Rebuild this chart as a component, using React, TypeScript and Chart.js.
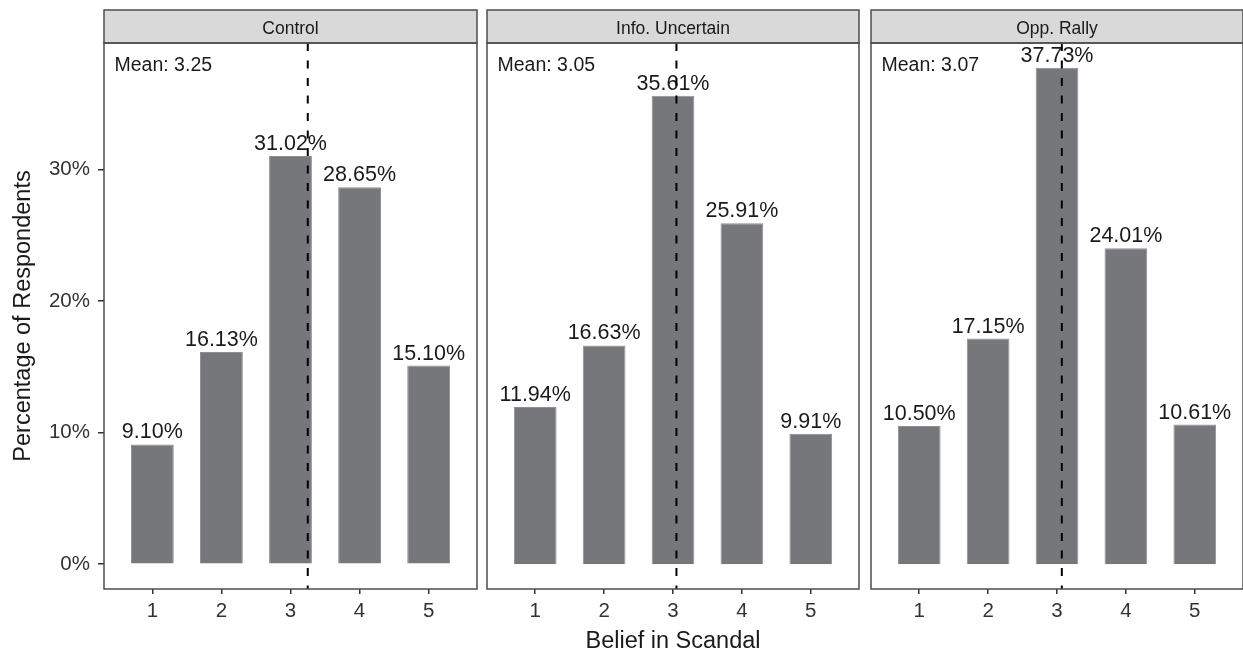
import React, { useEffect, useRef } from 'react';
import { Chart, registerables } from 'chart.js';

Chart.register(...registerables);

// ---------- data ----------
const categories = [1, 2, 3, 4, 5];
const panelTitles = ['Control', 'Info. Uncertain', 'Opp. Rally'];
const controlValues = [9.1, 16.13, 31.02, 28.65, 15.1];
const infoUncertainValues = [11.94, 16.63, 35.61, 25.91, 9.91];
const oppRallyValues = [10.5, 17.15, 37.73, 24.01, 10.61];
const panelMeans = [3.25, 3.05, 3.07];
const yTicks = [0, 10, 20, 30];
const yTitle = 'Percentage of Respondents';
const xTitle = 'Belief in Scandal';

const panelValues = [controlValues, infoUncertainValues, oppRallyValues];

// ---------- styles / layout ----------
const FONT = "'Liberation Sans', Arial, Helvetica, sans-serif";
const BAR_FILL = '#76777b';
const BAR_EDGE = '#8e8f92';
const FRAME = '#4d4d4d';
const STRIP_FILL = '#d9d9d9';
const TEXT = '#1a1a1a';
const TICK_TEXT = '#333333';

const H = 653;
const PLOT_TOP = 43;
const STRIP_TOP = 10;
const X_AXIS_H = 64;
const Y_AXIS_W = 104;

const layoutSpecs = [
  { left: 0, width: 482, padLeft: 0, padRight: 5, showY: true, showXTitle: false },
  { left: 477, width: 392, padLeft: 10, padRight: 10, showY: false, showXTitle: true },
  { left: 861, width: 392, padLeft: 10, padRight: 10, showY: false, showXTitle: false },
];

function makeDecor(idx: number) {
  return {
    id: 'panelDecor' + idx,
    afterDatasetsDraw(chart: any) {
      const { ctx, chartArea } = chart;
      const values = panelValues[idx];
      const meta = chart.getDatasetMeta(0);
      ctx.save();
      // bar labels
      ctx.font = `21.5px ${FONT}`;
      ctx.fillStyle = TEXT;
      ctx.textAlign = 'center';
      ctx.textBaseline = 'alphabetic';
      meta.data.forEach((bar: any, i: number) => {
        ctx.fillText(`${values[i].toFixed(2)}%`, bar.x, bar.y - 6);
      });
      // mean text
      ctx.font = `19.5px ${FONT}`;
      ctx.textAlign = 'left';
      ctx.fillText(`Mean: ${panelMeans[idx].toFixed(2)}`, chartArea.left + 10.5, 71);
      // mean line
      const mx = chart.scales.x.getPixelForValue(panelMeans[idx]);
      ctx.beginPath();
      ctx.setLineDash([8, 9.5]);
      ctx.lineWidth = 2;
      ctx.strokeStyle = '#000000';
      ctx.moveTo(mx, chartArea.top);
      ctx.lineTo(mx, chartArea.bottom);
      ctx.stroke();
      ctx.restore();
    },
    afterDraw(chart: any) {
      const { ctx, chartArea } = chart;
      const { left, right, top, bottom } = chartArea;
      ctx.save();
      // strip
      ctx.fillStyle = STRIP_FILL;
      ctx.fillRect(left, STRIP_TOP, right - left, top - STRIP_TOP);
      ctx.lineWidth = 1.5;
      ctx.strokeStyle = FRAME;
      ctx.strokeRect(left, STRIP_TOP, right - left, top - STRIP_TOP);
      ctx.font = `17.5px ${FONT}`;
      ctx.fillStyle = TEXT;
      ctx.textAlign = 'center';
      ctx.textBaseline = 'alphabetic';
      ctx.fillText(panelTitles[idx], (left + right) / 2, 34.3);
      // panel border
      ctx.strokeRect(left, top, right - left, bottom - top);
      ctx.restore();
    },
  };
}

function Panel({ idx }: { idx: number }) {
  const ref = useRef<HTMLCanvasElement>(null);
  const spec = layoutSpecs[idx];
  useEffect(() => {
    const values = panelValues[idx];
    const chart = new Chart(ref.current as HTMLCanvasElement, {
      type: 'bar',
      data: {
        datasets: [
          {
            data: categories.map((c, i) => ({ x: c, y: values[i] })),
            backgroundColor: BAR_FILL,
            borderColor: BAR_EDGE,
            borderWidth: 1,
            barPercentage: 0.62,
            categoryPercentage: 1,
          } as any,
        ],
      },
      options: {
        responsive: false,
        animation: false,
        layout: { padding: { top: PLOT_TOP, bottom: 0, left: spec.padLeft, right: spec.padRight } },
        plugins: { legend: { display: false }, tooltip: { enabled: false } },
        scales: {
          x: {
            type: 'linear',
            offset: false,
            min: 0.3,
            max: 5.7,
            afterBuildTicks: (s: any) => {
              s.ticks = categories.map((v) => ({ value: v }));
            },
            afterFit: (s: any) => {
              s.height = X_AXIS_H;
            },
            ticks: {
              font: { family: FONT, size: 20.5 },
              color: TICK_TEXT,
              padding: 5,
              maxRotation: 0,
              autoSkip: false,
              callback: (v: any) => String(v),
            },
            grid: {
              display: true,
              drawOnChartArea: false,
              drawTicks: true,
              tickLength: 5,
              color: '#333333',
              lineWidth: 1.5,
              offset: false,
            },
            border: { display: false },
            title: {
              display: spec.showXTitle,
              text: xTitle,
              font: { family: FONT, size: 23.5, lineHeight: 1 },
              color: TEXT,
              padding: { top: 0, bottom: 0 },
            },
          },
          y: {
            display: spec.showY,
            min: -1.89,
            max: 39.62,
            afterBuildTicks: (s: any) => {
              s.ticks = yTicks.map((v) => ({ value: v }));
            },
            afterFit: (s: any) => {
              s.width = spec.showY ? Y_AXIS_W : 0;
            },
            ticks: {
              font: { family: FONT, size: 20.5 },
              color: TICK_TEXT,
              padding: 8,
              callback: (v: any) => `${v}%`,
            },
            grid: {
              display: true,
              drawOnChartArea: false,
              drawTicks: true,
              tickLength: 6,
              color: '#333333',
              lineWidth: 1.5,
            },
            border: { display: false },
            title: {
              display: true,
              text: yTitle,
              font: { family: FONT, size: 23.5, lineHeight: 1 },
              color: TEXT,
              padding: { top: 12, bottom: 0 },
            },
          },
        },
      } as any,
      plugins: [makeDecor(idx)],
    });
    return () => chart.destroy();
  }, [idx]);
  return (
    <canvas
      ref={ref}
      width={spec.width}
      height={H}
      style={{ position: 'absolute', left: spec.left, top: 0, width: spec.width, height: H }}
    />
  );
}

export default function App() {
  return (
    <div
      style={{
        position: 'absolute',
        left: 0,
        top: 0,
        width: 1243,
        height: H,
        overflow: 'hidden',
        background: '#ffffff',
      }}
    >
      {[0, 1, 2].map((i) => (
        <Panel key={i} idx={i} />
      ))}
    </div>
  );
}
